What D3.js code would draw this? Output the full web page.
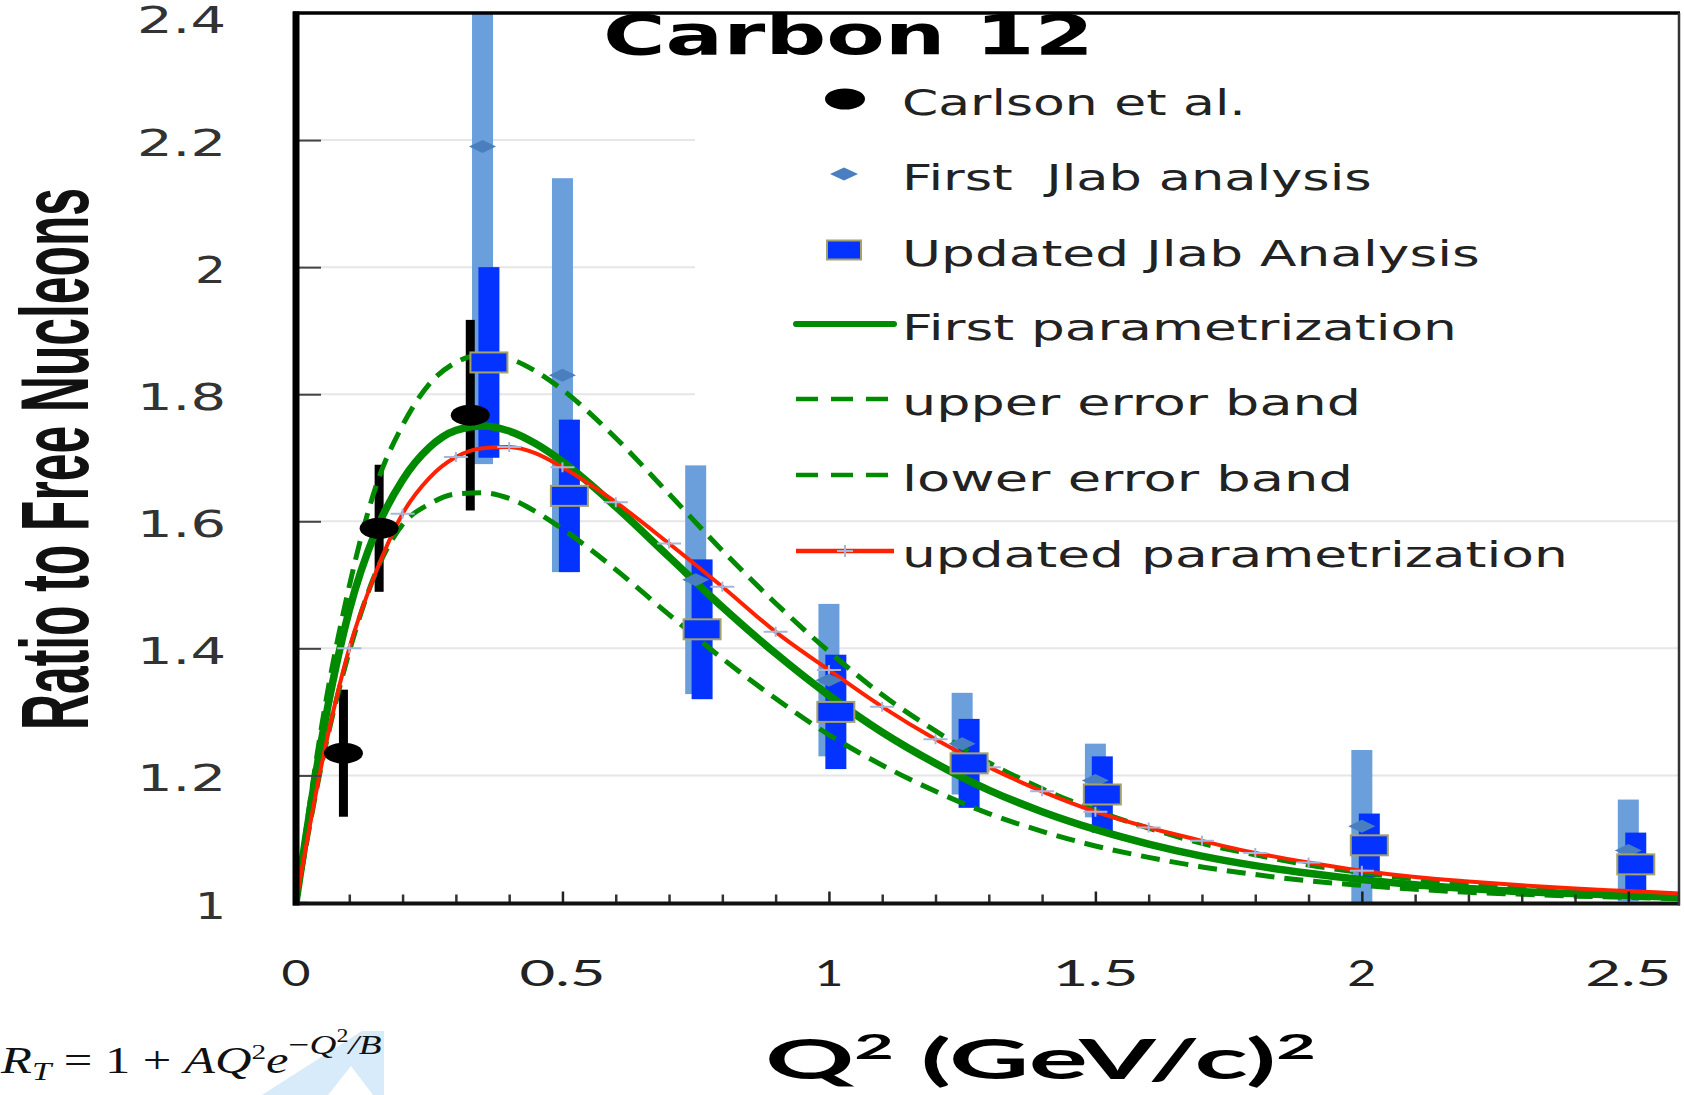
<!DOCTYPE html>
<html>
<head>
<meta charset="utf-8">
<script src="https://cdn.jsdelivr.net/npm/d3@7"></script>
<style>
  body { margin: 0; background: #fff; }
  svg { display: block; }
</style>
</head>
<body>
<script>
// Q^2 grid (GeV/c)^2 shared by the parametrization curves
const qGrid = [0, 0.05, 0.1, 0.15, 0.2, 0.25, 0.3, 0.35, 0.4, 0.45, 0.5, 0.6, 0.7, 0.8, 0.9, 1.0,
  1.1, 1.2, 1.3, 1.4, 1.5, 1.6, 1.7, 1.8, 1.9, 2.0, 2.1, 2.2, 2.3, 2.4, 2.5, 2.6];

const firstParam = [1, 1.265, 1.46, 1.585, 1.665, 1.716, 1.743, 1.75, 1.742, 1.722, 1.694, 1.623,
  1.544, 1.465, 1.392, 1.326, 1.268, 1.219, 1.177, 1.143, 1.115, 1.092, 1.073, 1.058, 1.046, 1.036,
  1.028, 1.022, 1.017, 1.014, 1.011, 1.008];
const upperBand = [1, 1.287, 1.498, 1.655, 1.751, 1.816, 1.85, 1.862, 1.856, 1.836, 1.807, 1.731,
  1.643, 1.554, 1.471, 1.395, 1.327, 1.27, 1.22, 1.179, 1.145, 1.117, 1.093, 1.075, 1.059, 1.047,
  1.037, 1.03, 1.023, 1.018, 1.014, 1.011];
const lowerBand = [1, 1.225, 1.395, 1.52, 1.595, 1.627, 1.643, 1.645, 1.636, 1.615, 1.588, 1.524,
  1.453, 1.384, 1.321, 1.264, 1.216, 1.175, 1.14, 1.112, 1.089, 1.071, 1.056, 1.044, 1.034, 1.027,
  1.021, 1.016, 1.013, 1.01, 1.008, 1.006];
const updatedParam = [1, 1.225, 1.4, 1.52, 1.612, 1.668, 1.701, 1.715, 1.717, 1.707, 1.685, 1.63,
  1.565, 1.497, 1.426, 1.366, 1.308, 1.257, 1.213, 1.175, 1.143, 1.118, 1.097, 1.078, 1.063, 1.05,
  1.04, 1.033, 1.027, 1.022, 1.018, 1.014];

// Carlson et al.
const carlsonQ = [0.089, 0.156, 0.327];
const carlsonR = [1.235, 1.589, 1.767];
const carlsonErr = [0.1, 0.1, 0.15];

// First Jlab analysis
const firstQ = [0.35, 0.5, 0.75, 1.0, 1.25, 1.5, 2.0, 2.5];
const firstR = [2.19, 1.83, 1.508, 1.35, 1.25, 1.192, 1.12, 1.082];
const firstErr = [0.5, 0.31, 0.18, 0.12, 0.08, 0.058, 0.12, 0.08];

// Updated Jlab analysis
const updQ = [0.362, 0.513, 0.762, 1.013, 1.263, 1.513, 2.014, 2.514];
const updR = [1.85, 1.64, 1.43, 1.3, 1.219, 1.17, 1.09, 1.06];
const updErr = [0.15, 0.12, 0.11, 0.09, 0.07, 0.06, 0.05, 0.05];

const yTicks = [1, 1.2, 1.4, 1.6, 1.8, 2, 2.2, 2.4];
const yTickLabels = ["1", "1.2", "1.4", "1.6", "1.8", "2", "2.2", "2.4"];
const xTicks = [0, 0.5, 1, 1.5, 2, 2.5];
const xTickLabels = ["0", "0.5", "1", "1.5", "2", "2.5"];

const legendLabels = ["Carlson et al.", "First  Jlab analysis", "Updated Jlab Analysis",
  "First parametrization", "upper error band", "lower error band", "updated parametrization"];

const w = 1684;
const h = 1095;
const plot = { left: 296, right: 1680, top: 13, bottom: 902.5 };

const colors = {
  light: "#6a9fdc",
  dark: "#0433ff",
  diamond: "#4a7fbf",
  squareEdge: "#a3a26a",
  green: "#008a00",
  red: "#ff2200",
  cross: "#a6b6da",
  grid: "#e6e6e6"
};

const svg = d3.select("body").append("svg").attr("width", w).attr("height", h);

const x = d3.scaleLinear().domain([0, 2.597]).range([plot.left, plot.right]);
const y = d3.scaleLinear().domain([1, 2.4]).range([plot.bottom, plot.top]);

// stretch a text horizontally to a given width, starting at (tx, ty)
function fitText(t, tx, ty, width) {
  const bw = t.node().getBBox().width;
  t.attr("transform", `translate(${tx},${ty}) scale(${width / bw},1)`);
  return t;
}

svg.append("defs").append("clipPath").attr("id", "plot-clip")
  .append("rect")
  .attr("x", plot.left).attr("y", plot.top)
  .attr("width", plot.right - plot.left).attr("height", plot.bottom - plot.top);

// gridlines
svg.append("g")
  .selectAll("line")
  .data(yTicks.slice(1, -1))
  .enter()
  .append("line")
  .attr("x1", plot.left + 4).attr("x2", plot.right)
  .attr("y1", (d) => y(d)).attr("y2", (d) => y(d))
  .attr("stroke", colors.grid).attr("stroke-width", 2);

// white legend panel hides the upper gridlines on the right
svg.append("rect")
  .attr("x", 695).attr("y", 20).attr("width", plot.right - 697).attr("height", 420)
  .attr("fill", "#fff");

const g = svg.append("g").attr("clip-path", "url(#plot-clip)");

const firstData = firstQ.map((q, i) => ({ q, r: firstR[i], e: firstErr[i] }));
const updData = updQ.map((q, i) => ({ q, r: updR[i], e: updErr[i] }));
const carlsonData = carlsonQ.map((q, i) => ({ q, r: carlsonR[i], e: carlsonErr[i] }));

// error bars
g.selectAll(".bar-first")
  .data(firstData)
  .enter()
  .append("rect")
  .attr("x", (d) => x(d.q) - 10.5).attr("width", 21)
  .attr("y", (d) => y(d.r + d.e))
  .attr("height", (d) => y(d.r - d.e) - y(d.r + d.e))
  .attr("fill", colors.light);

g.selectAll(".bar-upd")
  .data(updData)
  .enter()
  .append("rect")
  .attr("x", (d) => x(d.q) - 10.5).attr("width", 21)
  .attr("y", (d) => y(d.r + d.e))
  .attr("height", (d) => y(d.r - d.e) - y(d.r + d.e))
  .attr("fill", colors.dark);

g.selectAll(".bar-carlson")
  .data(carlsonData)
  .enter()
  .append("rect")
  .attr("x", (d) => x(d.q) - 4.5).attr("width", 9)
  .attr("y", (d) => y(d.r + d.e))
  .attr("height", (d) => y(d.r - d.e) - y(d.r + d.e))
  .attr("fill", "#000");

// parametrization curves
const line = (vals) => d3.line()
  .x((d, i) => x(qGrid[i]))
  .y((d) => y(d))
  .curve(d3.curveMonotoneX)(vals);

g.append("path").attr("d", line(lowerBand))
  .attr("fill", "none").attr("stroke", colors.green)
  .attr("stroke-width", 5).attr("stroke-dasharray", "19,10");
g.append("path").attr("d", line(upperBand))
  .attr("fill", "none").attr("stroke", colors.green)
  .attr("stroke-width", 5).attr("stroke-dasharray", "19,10");
g.append("path").attr("d", line(firstParam))
  .attr("fill", "none").attr("stroke", colors.green).attr("stroke-width", 7.5);
g.append("path").attr("d", line(updatedParam))
  .attr("fill", "none").attr("stroke", colors.red).attr("stroke-width", 4);

// small crosses on the updated curve every 0.1 up to 2.0
const crossPath = "M-12,0H12M0,-5V5";
g.selectAll(".cross")
  .data(qGrid.map((q, i) => ({ q, r: updatedParam[i] }))
    .filter((d) => d.q <= 2.0001 && Math.abs(d.q * 10 - Math.round(d.q * 10)) < 1e-6))
  .enter()
  .append("path")
  .attr("d", crossPath)
  .attr("transform", (d) => `translate(${x(d.q)},${y(d.r)})`)
  .attr("stroke", colors.cross).attr("stroke-width", 2).attr("fill", "none");

// markers
const diamondPath = "M-13.5,0L0,-6.5L13.5,0L0,6.5Z";
g.selectAll(".diamond")
  .data(firstData)
  .enter()
  .append("path")
  .attr("d", diamondPath)
  .attr("transform", (d) => `translate(${x(d.q)},${y(d.r)})`)
  .attr("fill", colors.diamond);

g.selectAll(".square")
  .data(updData)
  .enter()
  .append("rect")
  .attr("x", (d) => x(d.q) - 18.5).attr("y", (d) => y(d.r) - 10)
  .attr("width", 37).attr("height", 20)
  .attr("fill", colors.dark)
  .attr("stroke", colors.squareEdge).attr("stroke-width", 2);

g.selectAll(".carlson")
  .data(carlsonData)
  .enter()
  .append("ellipse")
  .attr("cx", (d) => x(d.q)).attr("cy", (d) => y(d.r))
  .attr("rx", 19.5).attr("ry", 10.5)
  .attr("fill", "#000");

// y ticks (inward) via axis
const yAxis = d3.axisLeft(y).tickValues(yTicks.slice(1, -1)).tickSize(-25).tickFormat("");
svg.append("g")
  .attr("transform", `translate(${plot.left},0)`)
  .call(yAxis)
  .call((a) => a.select(".domain").remove())
  .call((a) => a.selectAll("line").attr("stroke", "#444").attr("stroke-width", 2));

// x ticks (inward), minor every 0.1 and major every 0.5
const minorTicks = d3.range(1, 26).map((i) => i / 10).filter((d) => Math.abs(d * 2 - Math.round(d * 2)) > 1e-6);
svg.append("g")
  .attr("transform", `translate(0,${plot.bottom})`)
  .call(d3.axisBottom(x).tickValues(minorTicks).tickSize(-8).tickFormat(""))
  .call((a) => a.select(".domain").remove())
  .call((a) => a.selectAll("line").attr("stroke", "#333").attr("stroke-width", 2.5));
svg.append("g")
  .attr("transform", `translate(0,${plot.bottom})`)
  .call(d3.axisBottom(x).tickValues(xTicks.slice(1)).tickSize(-11).tickFormat(""))
  .call((a) => a.select(".domain").remove())
  .call((a) => a.selectAll("line").attr("stroke", "#222").attr("stroke-width", 2.5));

// plot frame
svg.append("line").attr("x1", plot.left - 3).attr("x2", plot.right)
  .attr("y1", plot.top).attr("y2", plot.top)
  .attr("stroke", "#000").attr("stroke-width", 3.5);
svg.append("line").attr("x1", plot.left - 3).attr("x2", plot.right)
  .attr("y1", plot.bottom + 1).attr("y2", plot.bottom + 1)
  .attr("stroke", "#111").attr("stroke-width", 4);
svg.append("line").attr("x1", plot.left).attr("x2", plot.left)
  .attr("y1", plot.top - 1.5).attr("y2", plot.bottom + 3)
  .attr("stroke", "#000").attr("stroke-width", 7);
svg.append("line").attr("x1", plot.right - 1).attr("x2", plot.right - 1)
  .attr("y1", plot.top).attr("y2", plot.bottom + 3)
  .attr("stroke", "#333").attr("stroke-width", 2.5);

// y tick labels
yTicks.forEach((v, i) => {
  const lab = yTickLabels[i];
  const lw = lab.length > 1 ? 89 : 31;
  const t = svg.append("text")
    .attr("font-family", "DejaVu Sans").attr("font-size", 37)
    .attr("fill", "#333")
    .text(lab);
  fitText(t, 226 - lw, Math.max(y(v) + 16, 33), lw);
});

// x tick labels
xTicks.forEach((v, i) => {
  const lab = xTickLabels[i];
  const lw = lab.length > 1 ? 86 : 29;
  const t = svg.append("text")
    .attr("font-family", "Lato").attr("font-size", 37)
    .attr("fill", "#222")
    .text(lab);
  fitText(t, x(v) - lw / 2, 985.5, lw);
});

// axis titles
const xTitle = svg.append("text")
  .attr("font-family", "Lato").attr("font-weight", "bold").attr("font-size", 55)
  .attr("fill", "#000");
xTitle.append("tspan").text("Q");
xTitle.append("tspan").attr("font-size", 34).attr("dy", -20).text("2");
xTitle.append("tspan").attr("dy", 20).text(" (GeV/c)");
xTitle.append("tspan").attr("font-size", 34).attr("dy", -20).text("2");
fitText(xTitle, 765, 1079, 551);

const yTitle = svg.append("text")
  .attr("font-family", "Liberation Sans").attr("font-weight", "bold").attr("font-size", 96)
  .attr("fill", "#111")
  .text("Ratio to Free Nucleons");
const yTw = yTitle.node().getBBox().width;
yTitle.attr("text-anchor", "middle")
  .attr("transform", `translate(88,459) rotate(-90) scale(${542 / yTw},1)`);

// chart title
const title = svg.append("text")
  .attr("font-family", "DejaVu Sans").attr("font-weight", "bold").attr("font-size", 56)
  .attr("fill", "#000")
  .text("Carbon 12");
fitText(title, 603, 54, 491);

// legend
const legendRows = [99, 174, 250, 324, 399, 475, 551];
const legendWidths = [344, 470, 578, 555, 459, 451, 666];
const lg = svg.append("g");

lg.append("ellipse").attr("cx", 845).attr("cy", legendRows[0]).attr("rx", 20).attr("ry", 10.5).attr("fill", "#000");
lg.append("path").attr("d", "M-14,0L0,-6.5L14,0L0,6.5Z")
  .attr("transform", `translate(844,${legendRows[1]})`).attr("fill", colors.diamond);
lg.append("rect").attr("x", 827).attr("y", legendRows[2] - 9.5).attr("width", 34).attr("height", 19)
  .attr("fill", colors.dark).attr("stroke", colors.squareEdge).attr("stroke-width", 2);
lg.append("line").attr("x1", 796).attr("x2", 894).attr("y1", legendRows[3]).attr("y2", legendRows[3])
  .attr("stroke", colors.green).attr("stroke-width", 6).attr("stroke-linecap", "round");
[4, 5].forEach((k) => {
  lg.append("line").attr("x1", 796).attr("x2", 888).attr("y1", legendRows[k]).attr("y2", legendRows[k])
    .attr("stroke", colors.green).attr("stroke-width", 4.5).attr("stroke-dasharray", "22,13");
});
lg.append("line").attr("x1", 796).attr("x2", 894).attr("y1", legendRows[6]).attr("y2", legendRows[6])
  .attr("stroke", colors.red).attr("stroke-width", 4.5);
lg.append("path").attr("d", "M-8,0H8M0,-6V6")
  .attr("transform", `translate(845,${legendRows[6]})`)
  .attr("stroke", colors.cross).attr("stroke-width", 2).attr("fill", "none");

legendLabels.forEach((lab, i) => {
  const t = lg.append("text")
    .attr("font-family", "DejaVu Sans").attr("font-size", 36)
    .attr("fill", "#222")
    .style("white-space", "pre")
    .text(lab);
  fitText(t, 902, legendRows[i] + 15.5, legendWidths[i]);
});

// watermark shape behind the formula
svg.append("path")
  .attr("d", "M262,1095L362,1031L384,1031L384,1095Z")
  .attr("fill", "#d7ebfa");
svg.append("path")
  .attr("d", "M328,1095L351,1066L373,1095Z")
  .attr("fill", "#fff");

// formula for the parametrization
const formula = svg.append("text")
  .attr("font-family", "Liberation Serif").attr("font-size", 38)
  .attr("fill", "#111");
formula.append("tspan").attr("font-style", "italic").text("R");
formula.append("tspan").attr("font-style", "italic").attr("font-size", 26).attr("dy", 7).text("T");
formula.append("tspan").attr("dy", -7).style("white-space", "pre").text(" = 1 + ");
formula.append("tspan").attr("font-style", "italic").text("AQ");
formula.append("tspan").attr("font-size", 22).attr("dy", -14).text("2");
formula.append("tspan").attr("font-style", "italic").attr("dy", 14).text("e");
formula.append("tspan").attr("font-size", 28).attr("dy", -19).text("\u2212");
formula.append("tspan").attr("font-style", "italic").attr("font-size", 28).text("Q");
formula.append("tspan").attr("font-size", 18).attr("dy", -12).text("2");
formula.append("tspan").attr("font-style", "italic").attr("font-size", 28).attr("dy", 12).text("/B");
fitText(formula, 1, 1073, 382);
</script>
</body>
</html>
